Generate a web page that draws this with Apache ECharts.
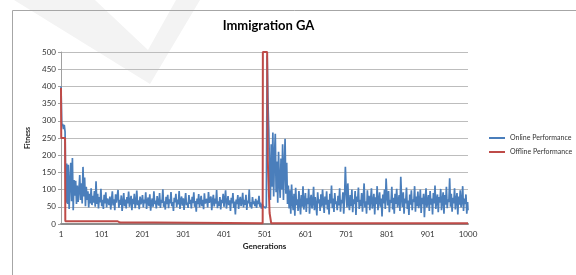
<!DOCTYPE html>
<html><head><meta charset="utf-8">
<script src="https://cdn.jsdelivr.net/npm/echarts@6/dist/echarts.min.js"></script>
<style>html,body{margin:0;padding:0;background:#fff}#c{width:576px;height:275px}</style>
</head><body><div id="c"></div>
<script>
// ---- data ----
const chartTitle = 'Immigration GA';
const xTickLabels = [1, 101, 201, 301, 401, 501, 601, 701, 801, 901, 1000];
const seriesNames = ['Online Performance', 'Offline Performance'];
// Online performance sampled every 2 generations, starting at generation 1
const onlineStep = 2;
const onlineValues = [
  400,285,291,276,288,268,62,176,58,172,44,118,178,66,192,40,128,82,126,58,
  112,64,98,142,70,118,60,166,80,135,52,108,70,95,48,88,60,104,55,82,
  62,96,50,124,58,88,45,78,63,102,52,70,44,85,60,92,48,74,66,55,
  80,42,68,95,54,72,40,86,62,58,99,47,70,56,83,38,64,90,52,71,
  45,78,60,94,50,67,82,40,73,58,88,46,62,97,55,69,43,80,57,66,
  84,48,71,60,92,44,65,77,52,86,39,63,74,50,95,58,68,45,81,61,
  54,90,47,70,62,101,50,66,42,79,58,85,46,72,60,93,52,64,38,76,
  63,88,49,71,57,96,44,68,80,53,75,41,66,90,55,62,47,84,59,70,
  45,79,61,92,50,67,36,74,58,87,48,64,82,52,70,43,89,60,55,73,
  48,93,62,57,80,40,68,85,51,74,59,99,46,66,53,78,42,70,61,88,
  50,72,98,45,63,81,55,69,38,76,60,90,47,65,28,71,58,84,44,67,
  79,52,62,91,48,70,56,85,41,68,60,100,50,64,45,78,58,66,52,73,
  47,68,58,82,50,62,45,58,52,48,55,46,52,490,355,272,150,70,232,108,
  266,80,200,262,92,182,62,210,122,76,190,100,232,70,160,248,88,178,58,112,
  45,98,30,115,62,40,88,24,105,55,72,38,96,60,28,84,50,110,42,66,
  90,35,75,58,102,30,68,85,45,62,108,40,78,55,25,92,60,72,38,86,
  50,100,64,32,80,56,95,42,70,28,88,60,112,46,74,35,90,58,66,40,
  82,54,104,36,70,60,92,30,76,166,95,48,118,60,40,84,52,100,34,72,
  58,96,26,80,64,106,44,70,52,90,36,75,118,48,66,30,98,56,82,40,
  70,104,45,62,88,28,78,58,110,40,68,92,50,74,22,86,60,100,44,132,
  80,54,96,34,70,62,108,42,76,30,88,58,102,48,66,84,38,137,72,50,
  92,30,74,60,106,44,68,26,86,56,98,40,72,64,110,36,80,52,94,46,
  62,100,32,76,58,88,20,70,104,48,66,84,38,96,56,74,28,90,60,112,
  44,70,86,34,78,62,102,40,68,92,30,84,56,108,46,72,64,133,50,88,
  36,76,60,104,42,70,90,28,80,56,98,48,66,110,38,74,58,86,30,64
];
const onlineLastGen = 1000;
const onlineLastValue = 40;
// Offline performance: step changes
const offlineGens   = [1,   1.6, 11,  11.6, 140, 146, 230, 232, 496, 496.5, 507, 508.5, 513, 517, 1000];
const offlineValues = [395, 250, 250, 8,    8,   4,   4,   2,   2,   500,   500, 185,   32,  2,   2];

// ---- build ----
const onlineData = onlineValues.map((v, i) => [1 + i * onlineStep, v]);
onlineData.push([onlineLastGen, onlineLastValue]);
const offlineData = offlineGens.map((g, i) => [g, offlineValues[i]]);

const FONT = 'Lato';
const chart = echarts.init(document.getElementById('c'));
chart.setOption({
  animation: false,
  textStyle: { fontFamily: FONT },
  graphic: [
    { type: 'polygon', z: -100, silent: true,
      shape: { points: [[14,0],[95,0],[148,50],[176,0],[200,0],[150,84]] },
      style: { fill: '#f3f3f3' } },
    { type: 'rect', z: -50, silent: true,
      shape: { x: 12.5, y: 10.5, width: 700, height: 400 },
      style: { fill: 'none', stroke: '#a6a6a6', lineWidth: 1 } },
    { type: 'text', z: 10,
      style: { text: chartTitle, x: 268.5, y: 26, textAlign: 'center', textVerticalAlign: 'middle',
               font: 'bold 13px ' + FONT, fill: '#000' } }
  ],
  grid: { left: 61, right: 108, top: 52, bottom: 51, containLabel: false },
  legend: {
    data: seriesNames, orient: 'vertical', left: 489, top: 134, padding: 0,
    icon: 'rect', itemWidth: 16, itemHeight: 2, itemGap: 6,
    textStyle: { fontSize: 7, color: '#333', lineHeight: 8, fontFamily: FONT }
  },
  xAxis: {
    type: 'value', min: 1, max: 1000,
    name: 'Generations', nameLocation: 'middle', nameGap: 18,
    nameTextStyle: { fontSize: 8, fontWeight: 'bold', color: '#222', fontFamily: FONT },
    axisLine: { show: true, onZero: true, lineStyle: { color: '#8c8c8c', width: 2 } },
    axisTick: { show: false },
    axisLabel: { customValues: xTickLabels, formatter: v => String(v), fontSize: 8, color: '#333', margin: 6, fontFamily: FONT },
    splitLine: { show: false }
  },
  yAxis: {
    type: 'value', min: 0, max: 500, interval: 50,
    name: 'Fitness', nameLocation: 'middle', nameGap: 24,
    nameTextStyle: { fontSize: 7, fontWeight: 'bold', color: '#222', fontFamily: FONT },
    axisLine: { show: true, lineStyle: { color: '#a0a0a0', width: 1 } },
    axisTick: { show: true, length: 3, lineStyle: { color: '#a0a0a0' } },
    axisLabel: { fontSize: 8, color: '#333', margin: 5, fontFamily: FONT },
    splitLine: { show: true, lineStyle: { color: '#bdbdbd', width: 1 } }
  },
  series: [
    { name: seriesNames[0], type: 'line', data: onlineData, showSymbol: false, symbol: 'none',
      lineStyle: { color: '#4a7ebb', width: 1.7 }, itemStyle: { color: '#4a7ebb' }, z: 2 },
    { name: seriesNames[1], type: 'line', data: offlineData, showSymbol: false, symbol: 'none', clip: false,
      lineStyle: { color: '#be4b48', width: 2 }, itemStyle: { color: '#be4b48' }, z: 3 }
  ]
});
</script></body></html>
